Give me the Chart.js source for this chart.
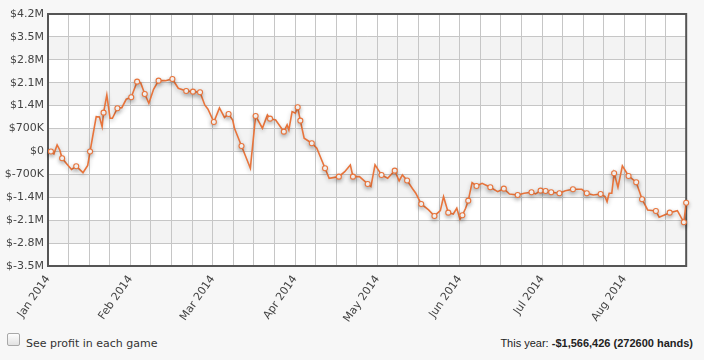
<!DOCTYPE html>
<html>
<head>
<meta charset="utf-8">
<script src="https://cdn.jsdelivr.net/npm/chart.js@4"></script>
<style>
  html, body { margin: 0; padding: 0; background: #f7f7f7; }
  body { width: 704px; height: 360px; position: relative; overflow: hidden; }
  #wrap { position: absolute; left: 0; top: 0; width: 704px; height: 325px; }
  .check {
    position: absolute; left: 7px; top: 333px; width: 11px; height: 11px;
    border: 1px solid #a8a8a8; border-radius: 2px;
    background: linear-gradient(#fdfdfd, #e2e2e2);
  }
  .lbl {
    position: absolute; left: 26px; top: 337px;
    font: 11px "DejaVu Sans", Verdana, sans-serif; color: #333;
  }
  .total {
    position: absolute; right: 11px; top: 337px;
    font: 11px "Liberation Sans", Arial, sans-serif; color: #222;
  }
  .total b { font-weight: bold; }
</style>
</head>
<body>
<div id="wrap"><canvas id="myChart"></canvas></div>
<div class="check"></div>
<div class="lbl">See profit in each game</div>
<div class="total">This year: <b>-$1,566,426 (272600 hands)</b></div>
<script>
// month labels, one every 4 grid columns (28 days)
const monthLabels = ['Jan 2014', 'Feb 2014', 'Mar 2014', 'Apr 2014', 'May 2014', 'Jun 2014', 'Jul 2014', 'Aug 2014'];

// running profit, x in days from start, y in thousands of dollars
const days = [
  0.2, 1.0, 2.0, 3.1, 4.0, 4.8, 6.4, 8.0, 9.6, 11.9, 13.5, 14.3, 16.4, 17.5, 18.4, 18.9,
  20.0, 21.1, 21.9, 23.6, 25.1, 26.6, 28.3, 30.3, 31.5, 32.9, 34.3, 35.9, 37.6, 39.9, 42.3,
  44.3, 47.0, 49.3, 51.7, 53.3, 54.4, 56.4, 58.3, 60.0, 61.4, 62.8, 63.4, 65.8, 68.8, 70.6,
  72.9, 74.6, 75.5, 77.4, 80.2, 81.3, 81.9, 83.0, 84.1, 84.9, 85.8, 87.1, 89.7, 91.4, 94.2,
  95.6, 98.9, 100.9, 102.8, 103.7, 105.9, 108.7, 109.8, 111.2, 113.4, 115.5, 117.9, 119.4,
  120.5, 122.1, 123.9, 125.0, 126.9, 129.4, 131.4, 133.4, 134.5, 136.1, 137.8, 139.0, 140.1,
  140.9, 142.0, 142.9, 144.2, 145.7, 147.6, 150.4, 152.9, 155.0, 156.9, 159.7, 161.9, 164.4,
  165.8, 167.5, 169.2, 171.1, 173.9, 175.9, 178.5, 181.5, 183.2, 185.4, 187.9, 189.4, 190.1,
  190.8, 191.7, 192.5, 193.8, 195.3, 197.4, 200.0, 202.0, 203.9, 206.7, 207.8, 211.4, 214.0,
  216.2, 217.0
];
const profitK = [
  46, 0, -76, 199, 46, -208, -382, -550, -452, -648, -428, 0, 1063, 1054, 758, 1185,
  1726, 1014, 1014, 1320, 1338, 1595, 1656, 2133, 2102, 1757, 1473, 1900, 2163, 2163, 2215,
  1931, 1848, 1827, 1809, 1421, 1289, 901, 1329, 1039, 1146, 962, 709, 168, -513, 1085,
  709, 1115, 1002, 962, 605, 810, 657, 1216, 1167, 1350, 941, 403, 251, 98, -513,
  -819, -770, -617, -412, -770, -770, -993, -1075, -412, -718, -819, -587, -901,
  -718, -886, -1130, -1268, -1604, -1787, -1971, -1809, -1381, -1870, -1910, -1735, -2071,
  -1949, -1735, -1503, -953, -1054, -972, -1094, -1228, -1137, -1299, -1329, -1277, -1247,
  -1299, -1198, -1207, -1247, -1277, -1198, -1155, -1155, -1277, -1329, -1299, -1381, -1534,
  -1277, -1277, -666, -1094, -443, -749, -941, -1460, -1787, -1818, -2010, -1870, -1809,
  -2164, -1566
];
// 1 where a session ends (drawn with a marker)
const sessionEnd = [
  0, 1, 0, 0, 0, 1, 0, 0, 1, 0, 0, 1, 0, 0, 0, 1,
  0, 0, 0, 1, 0, 0, 1, 1, 0, 1, 0, 0, 1, 0, 1,
  0, 1, 1, 1, 0, 0, 1, 0, 0, 1, 0, 0, 1, 0, 1,
  0, 0, 1, 0, 1, 0, 0, 0, 0, 1, 1, 0, 1, 0, 1,
  0, 1, 0, 0, 1, 0, 1, 0, 0, 1, 0, 1, 0,
  0, 1, 0, 0, 1, 0, 1, 0, 0, 1, 0, 0, 0,
  1, 0, 1, 0, 1, 0, 1, 0, 1, 0, 1, 0, 1,
  0, 1, 1, 1, 1, 0, 1, 0, 1, 0, 1, 0, 0,
  0, 0, 1, 0, 0, 1, 1, 1, 0, 1, 0, 1, 0,
  1, 1
];

const yMin = -3500000, yMax = 4200000, yStep = 700000;
const lineColor = '#e8743b';

const points = days.map((d, i) => ({ x: d, y: profitK[i] * 1000 }));

function money(v) {
  if (v === 0) return '$0';
  const a = Math.abs(v), s = v < 0 ? '-' : '';
  if (a >= 1000000) return '$' + s + (a / 1000000).toFixed(1).replace(/\.0$/, '') + 'M';
  return '$' + s + Math.round(a / 1000) + 'K';
}

const frame = {
  id: 'frame',
  beforeDraw(chart) {
    const {ctx, chartArea: a, scales: {y}} = chart;
    ctx.save();
    ctx.fillStyle = '#ffffff';
    ctx.fillRect(a.left, a.top, a.right - a.left, a.bottom - a.top);
    ctx.fillStyle = '#f3f3f3';
    let i = 0;
    for (let v = yMax; v > yMin; v -= yStep, i++) {
      if (i % 2 === 1) {
        const t = y.getPixelForValue(v), b = y.getPixelForValue(v - yStep);
        ctx.fillRect(a.left, t, a.right - a.left, b - t);
      }
    }
    ctx.restore();
  },
  beforeDatasetsDraw(chart) {
    const {ctx, chartArea: a} = chart;
    ctx.save();
    ctx.strokeStyle = '#555555';
    ctx.lineWidth = 2;
    ctx.strokeRect(a.left, a.top, a.right - a.left, a.bottom - a.top);
    ctx.restore();
  },
  beforeDatasetDraw(chart) {
    const ctx = chart.ctx;
    ctx.save();
    ctx.shadowColor = 'rgba(0,0,0,0.25)';
    ctx.shadowBlur = 4;
    ctx.shadowOffsetY = 2;
  },
  afterDatasetDraw(chart) {
    chart.ctx.restore();
  }
};

const tickFont = { family: '"DejaVu Sans", Verdana, sans-serif', size: 11 };

const config = {
  type: 'line',
  data: {
    datasets: [{
      data: points,
      borderColor: lineColor,
      borderWidth: 1.6,
      tension: 0,
      clip: false,
      pointRadius: sessionEnd.map(m => m ? 2.5 : 0),
      pointHoverRadius: sessionEnd.map(m => m ? 2.5 : 0),
      pointBackgroundColor: '#ffffff',
      pointBorderColor: lineColor,
      pointBorderWidth: 1.1
    }]
  },
  options: {
    responsive: true,
    maintainAspectRatio: false,
    animation: false,
    layout: { padding: { top: 14, right: 9, left: 0, bottom: 0 } },
    plugins: { legend: { display: false }, tooltip: { enabled: false } },
    scales: {
      x: {
        type: 'linear',
        min: 0,
        max: 217,
        grid: { color: '#c6c6c6', drawTicks: false },
        border: { display: false },
        ticks: {
          stepSize: 7,
          autoSkip: false,
          minRotation: 55,
          maxRotation: 55,
          padding: 7,
          color: '#444',
          font: tickFont,
          callback: v => (v % 28 === 0 ? monthLabels[v / 28] : '')
        },
        afterFit: s => { s.height = 59; }
      },
      y: {
        min: yMin,
        max: yMax,
        grid: { color: '#c6c6c6', drawTicks: false },
        border: { display: false },
        ticks: {
          stepSize: yStep,
          padding: 4,
          color: '#444',
          font: tickFont,
          callback: v => money(v)
        },
        afterFit: s => { s.width = 48; }
      }
    }
  },
  plugins: [frame]
};

const myChart = new Chart(document.getElementById('myChart'), config);
</script>
</body>
</html>
